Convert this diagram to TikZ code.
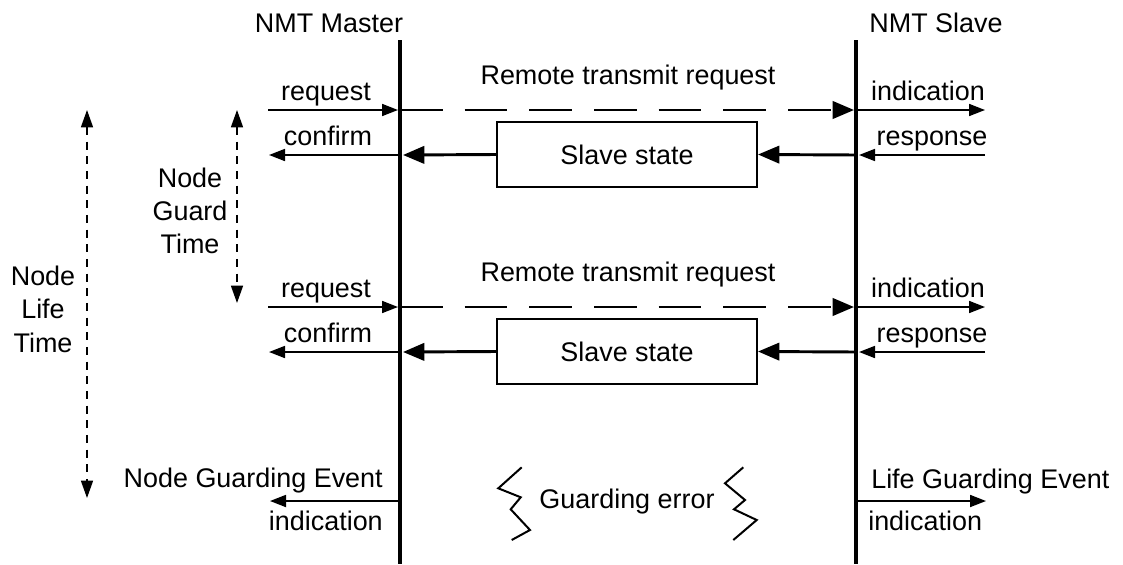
\documentclass[tikz,border=0pt]{standalone}
\usepackage{fontspec}
\setmainfont{Liberation Sans}
\usetikzlibrary{arrows.meta}
\begin{document}
\begin{tikzpicture}[x=0.75pt,y=-0.75pt,
  lbl/.style={font=\fontsize{20.2}{24}\selectfont, inner sep=0pt, anchor=base},
  lifeline/.style={line width=3pt},
  sarrow/.style={line width=1.3pt, -{Triangle[length=12pt,width=9pt]}},
  barrow/.style={line width=2.2pt, -{Triangle[length=16pt,width=13pt]}},
  rtr/.style={barrow, dash pattern=on 32pt off 16.5pt},
  statebox/.style={draw, line width=1.5pt, minimum width=195pt, minimum height=48.75pt,
    inner sep=0pt, font=\fontsize{20.2}{24}\selectfont},
  timespan/.style={line width=1.1pt, dash pattern=on 6pt off 5pt,
    {Triangle[length=13pt,width=9pt]}-{Triangle[length=13pt,width=9pt]}},
  zig/.style={line width=1.5pt, line join=miter}
]
\useasboundingbox (0,0) rectangle (1123,564);

% lifelines
\coordinate (mtop) at (400,40);
\coordinate (mbot) at (400,564);
\coordinate (stop) at (856,40);
\coordinate (sbot) at (856,564);
\draw[lifeline] (mtop) -- (mbot);
\draw[lifeline] (stop) -- (sbot);
\node[lbl] (master) at (329,32) {NMT Master};
\node[lbl] (slave) at (936,32) {NMT Slave};

% two request/confirm rounds
\foreach \i/\dy in {1/0,2/197}{
  \coordinate (reqL\i) at (268,110+\dy);
  \coordinate (reqM\i) at (398,110+\dy);
  \coordinate (rtrM\i) at (400,110+\dy);
  \coordinate (rtrS\i) at (854,110+\dy);
  \coordinate (indS\i) at (856,110+\dy);
  \coordinate (indR\i) at (985,110+\dy);
  \coordinate (cnfM\i) at (400,155+\dy);
  \coordinate (cnfL\i) at (269,155+\dy);
  \coordinate (cnfT\i) at (403,155+\dy);
  \coordinate (rspR\i) at (985,155+\dy);
  \coordinate (rspS\i) at (859,155+\dy);
  \coordinate (boxS\i) at (856,155+\dy);
  \node[statebox] (box\i) at (627,154.5+\dy) {Slave state};
  \draw[sarrow] (reqL\i) -- (reqM\i);
  \draw[rtr] (rtrM\i) -- (rtrS\i);
  \draw[sarrow] (indS\i) -- (indR\i);
  \draw[sarrow] (cnfM\i) -- (cnfL\i);
  \draw[barrow] (box\i.west) -- (cnfT\i);
  \draw[barrow] (boxS\i) -- (box\i.east);
  \draw[sarrow] (rspR\i) -- (rspS\i);
  \node[lbl] (req\i) at (326,100+\dy) {request};
  \node[lbl] (cnf\i) at (328,145+\dy) {confirm};
  \node[lbl] (rtrtxt\i) at (628,84+\dy) {Remote transmit request};
  \node[lbl] (ind\i) at (928,100+\dy) {indication};
  \node[lbl] (rsp\i) at (932,145+\dy) {response};
}

% time spans
\coordinate (ngtTop) at (237,110);
\coordinate (ngtBot) at (237,303);
\draw[timespan] (ngtTop) -- (ngtBot);
\node[lbl] (ngt1) at (190,187) {Node};
\node[lbl] (ngt2) at (190,220) {Guard};
\node[lbl] (ngt3) at (190,253) {Time};

\coordinate (nltTop) at (87,110);
\coordinate (nltBot) at (87,498);
\draw[timespan] (nltTop) -- (nltBot);
\node[lbl] (nlt1) at (43,285) {Node};
\node[lbl] (nlt2) at (43,318) {Life};
\node[lbl] (nlt3) at (43,352) {Time};

% guarding events
\coordinate (ngeM) at (400,501);
\coordinate (ngeL) at (270,501);
\draw[sarrow] (ngeM) -- (ngeL);
\node[lbl, anchor=base east] (nge) at (383,487) {Node Guarding Event};
\node[lbl, anchor=base east] (ngeind) at (383,530) {indication};

\coordinate (lgeS) at (856,501);
\coordinate (lgeR) at (986,501);
\draw[sarrow] (lgeS) -- (lgeR);
\node[lbl, anchor=base west] (lge) at (871,488) {Life Guarding Event};
\node[lbl, anchor=base west] (lgeind) at (868,530) {indication};

% guarding error
\node[lbl] (gerr) at (627,508) {Guarding error};
\draw[zig] (521.7,467.3) -- (498.3,488.3) -- (520.7,497.3) -- (510.7,509.3) -- (530,530) -- (511.7,540);
\draw[zig] (743.3,467.3) -- (725,483.3) -- (745,500) -- (734,509.3) -- (756.7,520) -- (733.3,540);
\end{tikzpicture}
\end{document}
